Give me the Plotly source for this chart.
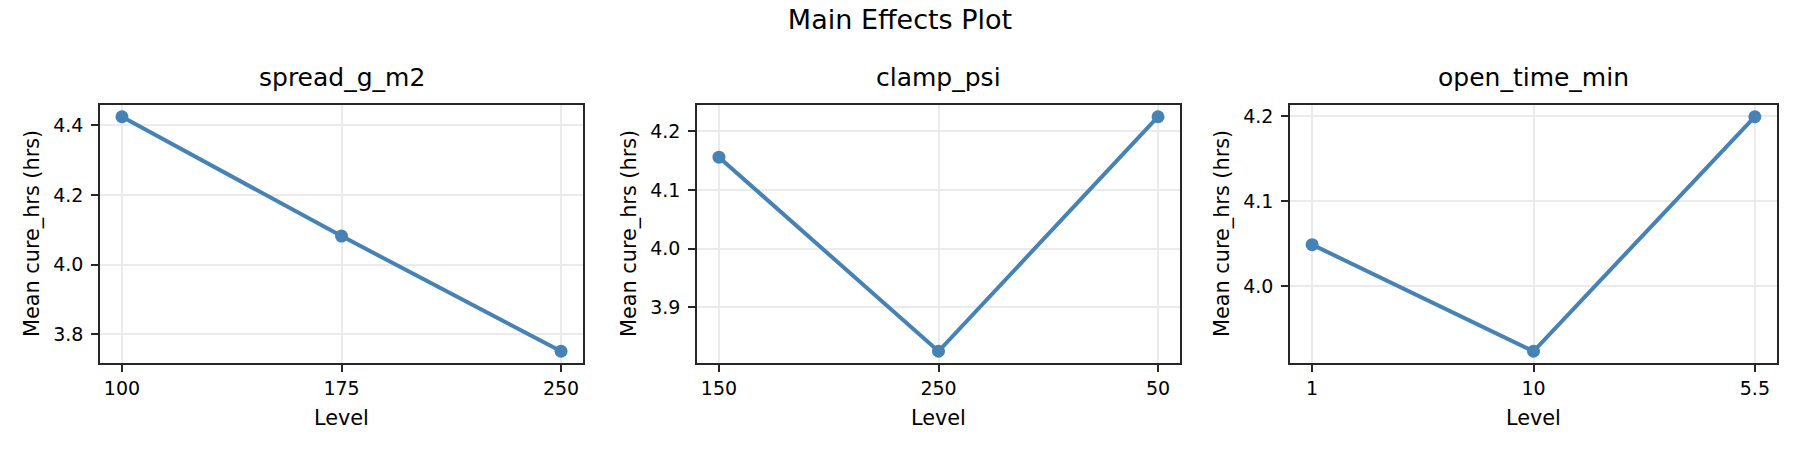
import plotly.graph_objects as go

# ---- data ----
factors = ["spread_g_m2", "clamp_psi", "open_time_min"]
levels_spread = ["100", "175", "250"]
means_spread = [4.425, 4.082, 3.751]
levels_clamp = ["150", "250", "50"]
means_clamp = [4.156, 3.825, 4.225]
levels_open = ["1", "10", "5.5"]
means_open = [4.049, 3.924, 4.199]
y_dticks = [0.2, 0.1, 0.1]

levels_all = [levels_spread, levels_clamp, levels_open]
means_all = [means_spread, means_clamp, means_open]

W, H = 1800, 450
FONT = "DejaVu Sans"
LINE_COLOR = "#4682B4"
AX_COLOR = "#262626"

# axes positions in pixels (left, right), top & bottom
x_px = [(100, 583), (697, 1180), (1290, 1777)]
top_px, bot_px = 105, 363
y_dom = [1 - bot_px / H, 1 - top_px / H]

fig = go.Figure()
annotations = []

for i, (name, lv, mv) in enumerate(zip(factors, levels_all, means_all)):
    n = i + 1
    xa = "x" if n == 1 else f"x{n}"
    ya = "y" if n == 1 else f"y{n}"
    fig.add_trace(go.Scatter(
        x=lv, y=mv, xaxis=xa, yaxis=ya, mode="lines+markers",
        line=dict(color=LINE_COLOR, width=4),
        marker=dict(color=LINE_COLOR, size=13),
        showlegend=False, hoverinfo="x+y",
    ))
    lo, hi = min(mv), max(mv)
    pad = (hi - lo) * 0.05
    dom = [x_px[i][0] / W, x_px[i][1] / W]
    common = dict(
        showline=True, linecolor=AX_COLOR, linewidth=1.7, mirror=True,
        ticks="outside", ticklen=7, tickwidth=1.5, tickcolor=AX_COLOR,
        showgrid=True, gridcolor="#ebebeb", gridwidth=1.5,
        zeroline=False,
        tickfont=dict(family=FONT, size=19, color="black"),
    )
    fig.update_layout(**{
        ("xaxis" if n == 1 else f"xaxis{n}"): dict(
            domain=dom, anchor=ya, type="category",
            range=[-0.1, len(lv) - 1 + 0.1],
            categoryorder="array", categoryarray=lv, **common),
        ("yaxis" if n == 1 else f"yaxis{n}"): dict(
            domain=y_dom, anchor=xa, range=[lo - pad, hi + pad],
            dtick=y_dticks[i], tick0=0, tickformat=".1f",
            ticklabelstandoff=4, **common),
    })
    cx = (dom[0] + dom[1]) / 2
    # subplot title
    annotations.append(dict(
        text=name, xref="paper", yref="paper", x=cx, y=1 - 94 / H,
        xanchor="center", yanchor="bottom", showarrow=False,
        font=dict(family=FONT, size=25, color="black")))
    # x-axis label
    annotations.append(dict(
        text="Level", xref="paper", yref="paper", x=cx, y=1 - 418 / H,
        xanchor="center", yanchor="middle", showarrow=False,
        font=dict(family=FONT, size=20.8, color="black")))
    # y-axis label
    annotations.append(dict(
        text="Mean cure_hrs (hrs)", xref="paper", yref="paper",
        x=(x_px[i][0] - 68) / W, y=(y_dom[0] + y_dom[1]) / 2,
        xanchor="center", yanchor="middle", textangle=-90, showarrow=False,
        font=dict(family=FONT, size=20.8, color="black")))

fig.update_layout(
    width=W, height=H,
    margin=dict(l=0, r=0, t=0, b=0),
    paper_bgcolor="white", plot_bgcolor="white",
    font=dict(family=FONT, color="black"),
    title=dict(text="Main Effects Plot", x=0.5, xanchor="center",
               y=1 - 20 / H, yanchor="middle",
               font=dict(family=FONT, size=27, color="black")),
    annotations=annotations,
)

fig.write_html("out.html",
               config={"displayModeBar": False},
               post_script="document.body.style.margin='0px';"
                           "document.body.style.padding='0px';")
